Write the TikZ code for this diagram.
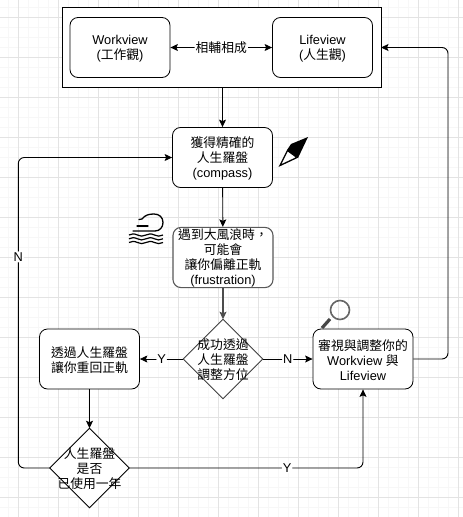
\documentclass[tikz,border=0pt]{standalone}
\usepackage{fontspec}
\setmainfont{Liberation Sans}
\newfontfamily\cjk{Noto Sans CJK TC}
\newcommand{\dnstrut}{\rule{0pt}{12.5pt}}
\usetikzlibrary{shapes.geometric,arrows.meta}
\tikzset{
  x=1pt,y=-1pt,
  flowline/.style={draw=black,line width=0.9pt,-{Stealth[length=7.5pt,width=7pt,inset=1.5pt]},rounded corners=6pt},
  roundbox/.style={draw=black,line width=0.8pt,fill=white,rounded corners=8pt,minimum width=100pt,minimum height=60pt,inner sep=0pt,align=center,font=\fontsize{12.8}{15}\selectfont},
  choice/.style={diamond,aspect=1,draw=black,line width=0.8pt,fill=white,minimum width=79.5pt,minimum height=79.5pt,inner sep=0pt,outer sep=0pt},
  lbl/.style={fill=white,inner sep=1pt,font=\fontsize{12.8}{15}\selectfont},
  plainlbl/.style={inner sep=0pt,align=center,font=\fontsize{12.8}{15}\selectfont},
}
\begin{document}
\begin{tikzpicture}
\useasboundingbox (0,0) rectangle (463,517);
\fill[white] (0,0) rectangle (463,517);
\foreach \k in {0,...,46} {
  \draw[black!3,line width=0.6pt] (8.3+10*\k,0) -- (8.3+10*\k,517);
}
\foreach \k in {0,...,52} {
  \draw[black!3,line width=0.6pt] (0,7.3+10*\k) -- (463,7.3+10*\k);
}
\foreach \k in {0,...,11} {
  \draw[black!11,line width=0.7pt] (18.3+40*\k,0) -- (18.3+40*\k,517);
}
\foreach \k in {0,...,12} {
  \draw[black!11,line width=0.7pt] (0,17.3+40*\k) -- (463,17.3+40*\k);
}
\node[draw=black,line width=0.9pt,fill=white,minimum width=319pt,minimum height=80pt,inner sep=0pt,outer sep=0pt] (outer) at (221.5,47.5) {};
\node[roundbox] (work) at (120,47.5) {\dnstrut Workview\\({\cjk 工作觀})};
\node[roundbox] (life) at (322.5,47.5) {\dnstrut Lifeview\\({\cjk 人生觀})};
\node[roundbox] (comp) at (222.5,157.5) {\dnstrut{\cjk 獲得精確的}\\{\cjk 人生羅盤}\\(compass)};
\node[roundbox,draw=black!65,line width=1.1pt] (frus) at (223,257.5) {\dnstrut{\cjk 遇到大風浪時，}\\{\cjk 可能會}\\{\cjk 讓你偏離正軌}\\(frustration)};
\node[choice,draw=black!75] (adj) at (223,359) {};
\node[plainlbl] (adjt) at (223,359) {\dnstrut{\cjk 成功透過}\\{\cjk 人生羅盤}\\{\cjk 調整方位}};
\node[roundbox] (back) at (89.5,359) {\dnstrut{\cjk 透過人生羅盤}\\{\cjk 讓你重回正軌}};
\node[roundbox] (rev) at (363,359) {\dnstrut{\cjk 審視與調整你的}\\Workview {\cjk 與}\\Lifeview};
\node[choice] (year) at (89.5,468) {};
\node[plainlbl] (yeart) at (89.5,468) {\dnstrut{\cjk 人生羅盤}\\{\cjk 是否}\\{\cjk 已使用一年}};
\coordinate (rightTurn) at (448,359);
\coordinate (rightTop) at (448,47.5);
\coordinate (leftBot) at (18.3,468);
\coordinate (leftTop) at (18.3,157.5);
\coordinate (revBot) at (363,468);
\draw[flowline,{Stealth[length=7.5pt,width=7pt,inset=1.5pt]}-{Stealth[length=7.5pt,width=7pt,inset=1.5pt]}] (work) -- node[lbl]{\cjk 相輔相成} (life);
\draw[flowline] (outer.south -| comp) -- (comp);
\draw[flowline] (comp) -- (frus);
\draw[flowline,draw=black!70,line width=1.3pt] (frus) -- (adj);
\draw[flowline] (adj.west) -- node[lbl]{Y} (back);
\draw[flowline] (adj.east) -- node[lbl]{N} (rev);
\draw[flowline] (back) -- (year.north);
\draw[flowline] (year.west) -- (leftBot) -- node[lbl,pos=0.68]{N} (leftTop) -- (comp.west);
\draw[flowline] (year.east) -- node[lbl,pos=0.675]{Y} (revBot) -- (rev.south);
\draw[flowline] (rev.east) -- (rightTurn) -- (rightTop) -- (outer.east);
% compass
\fill[black] (308,137) -- (291,144) -- (287,150) -- (298,158) -- cycle;
\draw[black,line width=1.3pt,fill=white,line join=miter] (287.5,150.5) -- (297,157.5) -- (280,165.5) -- cycle;
% storm
\draw[black,line width=1.3pt,line cap=round] (137,226) -- (148,226);
\draw[black,line width=1.3pt,line cap=round] (133,231) -- (155,231) .. controls (160,231) and (163,227) .. (163,222.5) .. controls (163,217) and (159,214) .. (154,214) .. controls (149,214) and (145,215) .. (142,219) -- (139,219.5);
\foreach \yy in {235,238.8,242.5}
  \draw[black,line width=1.2pt] (129,\yy) .. controls (132,\yy-1.5) and (134,\yy-1.5) .. (137.5,\yy) .. controls (140,\yy+1.5) and (143,\yy+1.5) .. (146,\yy) .. controls (149,\yy-1.5) and (151,\yy-1.5) .. (154.5,\yy) .. controls (157,\yy+1.5) and (160,\yy+1.5) .. (163,\yy);
% magnifier
\draw[black!60,line width=1.6pt] (340,310) circle (9.5pt);
\draw[black!72,line width=3.2pt] (330,319) -- (322,328);
\end{tikzpicture}
\end{document}
